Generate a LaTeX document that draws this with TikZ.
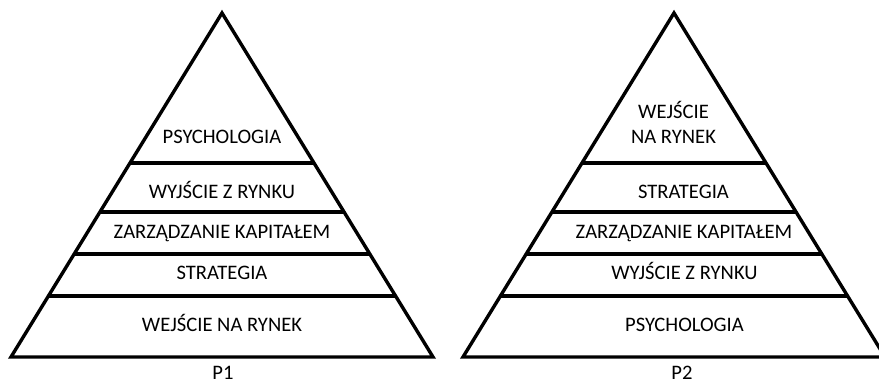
\documentclass[tikz,border=0pt]{standalone}
\usepackage{fontspec}
\setmainfont{Carlito}
\usetikzlibrary{calc}
\begin{document}
\begin{tikzpicture}[x=1pt,y=-1pt,
  edge/.style={line width=3.4pt,line join=miter,line cap=butt},
  lbl/.style={anchor=base,inner sep=0pt,font=\fontsize{20.6}{25}\selectfont,align=center}]
\useasboundingbox (0,0) rectangle (879,382);
\fill[white] (0,0) rectangle (879,382);
\begin{scope}
\clip (0,0) rectangle (879,382);
% left pyramid
\coordinate (LA) at (222,13);
\coordinate (LL) at (11,357);
\coordinate (LR) at (433,357);
\draw[edge] (LA) -- (LL) -- (LR) -- cycle;
\foreach \t [count=\i] in {0.436,0.5785,0.7006,0.8227}{
  \draw[edge] ($(LA)!\t!(LL)$) coordinate (LLs\i) -- ($(LA)!\t!(LR)$) coordinate (LRs\i);
}
% right pyramid
\coordinate (RA) at (674,13);
\coordinate (RL) at (463,357);
\coordinate (RR) at (885,357);
\draw[edge] (RA) -- (RL) -- (RR) -- cycle;
\foreach \t [count=\i] in {0.436,0.5785,0.7006,0.8227}{
  \draw[edge] ($(RA)!\t!(RL)$) coordinate (RLs\i) -- ($(RA)!\t!(RR)$) coordinate (RRs\i);
}
\end{scope}
% left labels
\node[lbl] (l1) at (222,143.5) {PSYCHOLOGIA};
\node[lbl] (l2) at (222,198.5) {WYJŚCIE Z RYNKU};
\node[lbl] (l3) at (222,238.5) {ZARZĄDZANIE KAPITAŁEM};
\node[lbl] (l4) at (222,279.5) {STRATEGIA};
\node[lbl] (l5) at (222,331.5) {WEJŚCIE NA RYNEK};
\node[lbl] (p1) at (223,379) {P1};
% right labels
\node[lbl] (r1a) at (673.5,118.5) {WEJŚCIE};
\node[lbl] (r1b) at (673.5,143.5) {NA RYNEK};
\node[lbl] (r2) at (683.5,198.5) {STRATEGIA};
\node[lbl] (r3) at (684,238.5) {ZARZĄDZANIE KAPITAŁEM};
\node[lbl] (r4) at (684.5,279.5) {WYJŚCIE Z RYNKU};
\node[lbl] (r5) at (684.5,331.5) {PSYCHOLOGIA};
\node[lbl] (p2) at (682,379) {P2};
\end{tikzpicture}
\end{document}
